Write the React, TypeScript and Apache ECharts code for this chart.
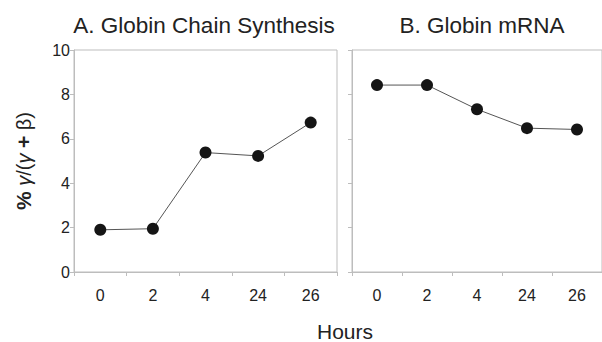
import React, { useEffect, useRef } from "react";
import * as echarts from "echarts";

const hours = ["0", "2", "4", "24", "26"];
const chainSynthesis = [1.9, 1.95, 5.38, 5.23, 6.73];
const mRNA = [8.42, 8.42, 7.33, 6.48, 6.42];
const titleA = "A. Globin Chain Synthesis";
const titleB = "B. Globin mRNA";
const xName = "Hours";

const FONT = "Liberation Sans, Arial, sans-serif";
const AXIS = "#bdbdbd";

export default function App() {
  const ref = useRef<HTMLDivElement>(null);
  useEffect(() => {
    if (!ref.current) return;
    const chart = echarts.init(ref.current, null, { renderer: "svg" });
    const xAxisBase = (gi: number) => ({
      type: "category",
      gridIndex: gi,
      data: hours,
      boundaryGap: true,
      axisLine: { show: true, lineStyle: { color: AXIS, width: 1 } },
      axisTick: { show: true, length: 4, lineStyle: { color: AXIS } },
      axisLabel: { color: "#222", fontSize: 16, fontFamily: FONT, margin: 15 },
      splitLine: { show: false },
    });
    const yAxisBase = (gi: number) => ({
      type: "value",
      gridIndex: gi,
      min: 0,
      max: 10,
      interval: 2,
      axisLine: { show: true, lineStyle: { color: AXIS, width: 1 } },
      axisTick: { show: true, length: 4, lineStyle: { color: AXIS } },
      splitLine: { show: false },
    });
    const seriesBase = {
      type: "line",
      symbol: "circle",
      symbolSize: 12,
      itemStyle: { color: "#151515" },
      lineStyle: { color: "#555", width: 1 },
    };
    const titleStyle = { fontFamily: FONT, fontSize: 22.5, fontWeight: "normal", color: "#222" };
    chart.setOption({
      animation: false,
      backgroundColor: "#fff",
      grid: [
        { left: 74, right: 265, top: 50, bottom: 70, show: true, borderColor: AXIS, borderWidth: 1 },
        { left: 352, right: -13, top: 50, bottom: 70, show: true, borderColor: AXIS, borderWidth: 1 },
      ],
      title: [
        { text: titleA, left: 204, top: 14, padding: 0, textAlign: "center", textStyle: titleStyle },
        { text: titleB, left: 482, top: 14, padding: 0, textAlign: "center", textStyle: titleStyle },
      ],
      graphic: [
        {
          type: "text",
          x: 345,
          y: 331,
          style: {
            text: xName,
            fontFamily: FONT,
            fontSize: 21,
            fill: "#222",
            textAlign: "center",
            textVerticalAlign: "middle",
          },
        },
      ],
      xAxis: [xAxisBase(0), xAxisBase(1)],
      yAxis: [
        {
          ...yAxisBase(0),
          axisLabel: { color: "#222", fontSize: 16, fontFamily: FONT, margin: 4 },
          name: "{b|%} {g|γ}/({g|γ} {b|+} β)",
          nameLocation: "middle",
          nameRotate: 90,
          nameGap: 40,
          nameTextStyle: {
            fontFamily: FONT,
            fontSize: 20,
            color: "#222",
            rich: {
              b: { fontFamily: FONT, fontSize: 21, fontWeight: "bold", color: "#222" },
              g: { fontFamily: FONT, fontSize: 20, fontStyle: "italic", color: "#222" },
            },
          },
        },
        { ...yAxisBase(1), axisLabel: { show: false } },
      ],
      series: [
        { ...seriesBase, xAxisIndex: 0, yAxisIndex: 0, data: chainSynthesis },
        { ...seriesBase, xAxisIndex: 1, yAxisIndex: 1, data: mRNA },
      ],
    });
    return () => chart.dispose();
  }, []);
  return <div ref={ref} style={{ width: 602, height: 342, position: "absolute", left: 0, top: 0 }} />;
}
